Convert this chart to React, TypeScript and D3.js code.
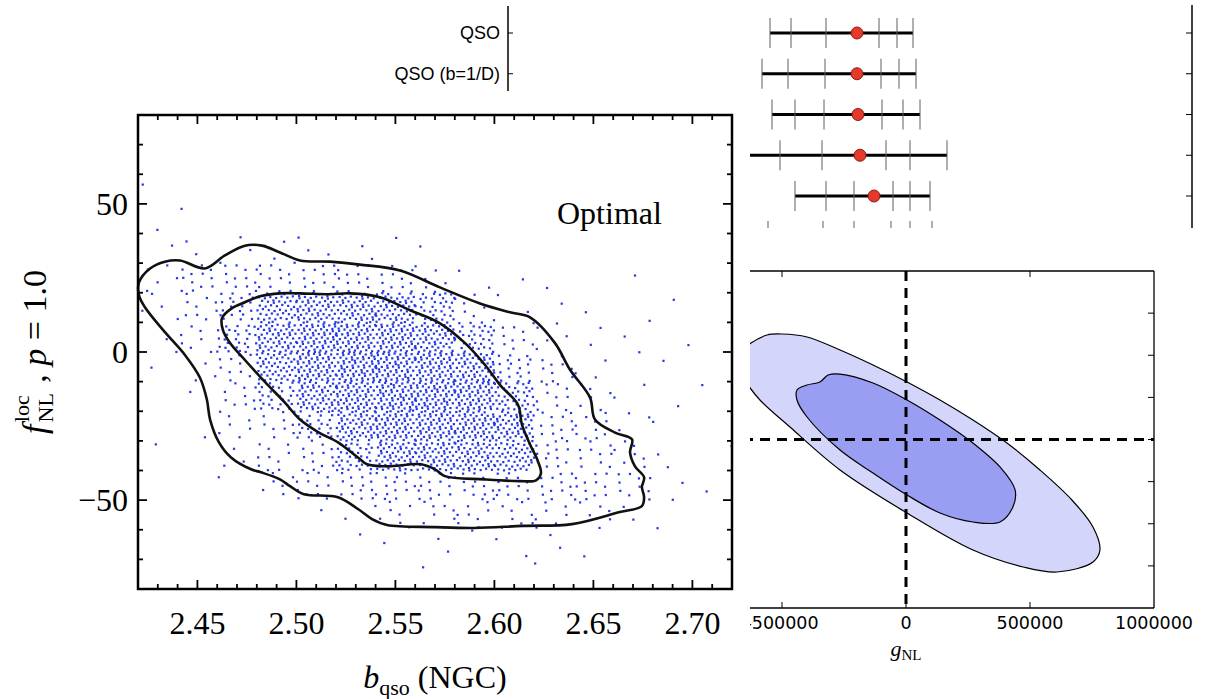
import React from 'react';
import * as d3 from 'd3';

// ---------- top-right panel : error bars ----------
const rowLabels = ['QSO', 'QSO (b=1/D)', '', '', ''];
const rowBest = [0, 0, 0.5, 1.5, 8.5];
const rowTicks = [
  [-43.5, -33, -15.5, 11, 20, 28],
  [-47.5, -34.5, -16, 12, 21, 29.5],
  [-42.5, -31, -16.5, 12.5, 23, 31.5],
  [-68.5, -38.5, -17.5, 14.5, 26.5, 45],
  [-31, -15.5, -1.5, 18, 26.5, 36.5],
];
const stubTicks = [-44.5, -17, -1.5, 17, 26.5, 37.5];

// ---------- left panel : b_qso vs fNL ----------
const bTicks = [2.45, 2.5, 2.55, 2.6, 2.65, 2.7];
const bTickLabels = ['2.45', '2.50', '2.55', '2.60', '2.65', '2.70'];
const fTicks = [50, 0, -50];
const fTickLabels = ['50', '0', '\u221250'];

const outerContour: [number, number][] = [
  [2.4205, 23.5], [2.4261, 28.2], [2.4336, 30.5], [2.4412, 30.9], [2.4538, 28.2],
  [2.4639, 32.6], [2.474, 35.9], [2.4826, 35.9], [2.4917, 33.6], [2.5018, 30.9],
  [2.517, 30.5], [2.5321, 29.5], [2.5523, 27.5], [2.5725, 21.8], [2.5927, 16.4],
  [2.6079, 13.4], [2.618, 11.7], [2.6306, 3.0], [2.6382, -6.0], [2.6483, -15.4],
  [2.6508, -22.8], [2.6609, -27.2], [2.6695, -29.5], [2.6685, -33.9], [2.671, -38.6],
  [2.6756, -42.3], [2.6745, -45.6], [2.6756, -49.0], [2.6745, -52.0], [2.6634, -54.0],
  [2.6392, -58.1], [2.6144, -58.7], [2.5897, -59.4], [2.57, -59.1], [2.5458, -58.4],
  [2.5382, -56.4], [2.5311, -53.0], [2.521, -49.0], [2.5038, -48.0], [2.4968, -45.3],
  [2.4917, -43.0], [2.4821, -40.6], [2.4771, -39.6], [2.467, -35.6], [2.4609, -30.5],
  [2.4564, -22.8], [2.4548, -16.1], [2.4513, -8.7], [2.4437, -1.0], [2.4336, 6.7],
  [2.4235, 15.1], [2.4205, 19.1],
];

const innerContour: [number, number][] = [
  [2.4624, 11.4], [2.4675, 14.8], [2.474, 16.8], [2.4816, 18.8], [2.4917, 19.8],
  [2.5018, 19.8], [2.517, 19.5], [2.5271, 19.8], [2.5422, 18.5], [2.5574, 14.1],
  [2.5725, 9.7], [2.5852, 3.0], [2.5953, -4.4], [2.6028, -11.1], [2.6119, -17.8],
  [2.6139, -24.5], [2.618, -31.2], [2.622, -36.9], [2.6235, -40.9], [2.621, -43.3],
  [2.6129, -43.6], [2.5947, -43.0], [2.575, -41.9], [2.57, -39.6], [2.5629, -37.9],
  [2.5458, -38.6], [2.5357, -37.9], [2.5311, -35.6], [2.521, -30.5], [2.5114, -27.2],
  [2.5018, -22.8], [2.4942, -17.1], [2.4841, -10.1], [2.474, -2.7], [2.4665, 3.0],
  [2.4629, 7.4],
];

// sample counts per cell
// columns: b from 2.42 in steps of 0.02, rows: fNL from 80 down in steps of 10
const gridB0 = 2.42;
const gridDB = 0.02;
const gridF0 = 80;
const gridDF = 10;
const densityGrid = [
  [0, 0, 0, 0, 0, 0, 0, 0, 0, 0, 0, 0, 0, 0, 0],
  [0, 0, 0, 0, 0, 0, 0, 0, 0, 0, 0, 0, 0, 0, 0],
  [1, 0, 0, 0, 0, 0, 0, 0, 0, 0, 0, 0, 0, 0, 0],
  [1, 1, 0, 0, 0, 0, 0, 0, 0, 0, 0, 0, 0, 0, 0],
  [1, 2, 3, 4, 3, 2, 1, 1, 0, 0, 0, 0, 0, 0, 0],
  [5, 12, 12, 12, 12, 12, 12, 6, 2, 1, 1, 0, 1, 0, 0],
  [3, 10, 20, 50, 58, 58, 55, 35, 7, 2, 1, 1, 1, 1, 0],
  [2, 7, 28, 58, 65, 65, 65, 58, 35, 10, 5, 2, 1, 1, 0],
  [1, 3, 10, 50, 65, 70, 70, 65, 58, 20, 10, 3, 1, 1, 0],
  [0, 1, 10, 28, 58, 65, 70, 70, 65, 42, 10, 6, 2, 1, 1],
  [0, 1, 7, 10, 28, 58, 65, 65, 65, 58, 12, 10, 3, 1, 0],
  [1, 0, 3, 10, 12, 35, 58, 58, 58, 50, 14, 10, 7, 2, 1],
  [0, 0, 1, 6, 12, 14, 14, 14, 14, 14, 12, 12, 10, 2, 1],
  [0, 0, 0, 0, 1, 2, 7, 8, 8, 8, 7, 6, 2, 1, 0],
  [0, 0, 0, 0, 0, 1, 1, 2, 1, 2, 2, 1, 0, 0, 0],
  [0, 0, 0, 0, 0, 0, 0, 1, 0, 0, 1, 0, 0, 0, 0],
];

// ---------- bottom-right panel : gNL contours ----------
const gTicks = [-500000, 0, 500000, 1000000];
const gTickLabels = ['-500000', '0', '500000', '1000000'];
const vTicks = [-150, -100, -50, 0, 50, 100, 150];

const outer2: [number, number][] = [
  [-700000, 95], [-625000, 114.5], [-560000, 124], [-500000, 125.2], [-399000, 121.7],
  [-266000, 106.2], [-133000, 88.4], [4000, 68.3], [137000, 46.9], [270000, 23.1],
  [407000, -4.2], [540000, -36.2], [669000, -71.8], [754000, -103.9], [782000, -131.2],
  [754000, -145.4], [609000, -157.3], [472000, -151.3], [270000, -131.2], [4000, -87.2],
  [-266000, -36.2], [-468000, 14.8], [-589000, 46.9], [-650000, 70],
];
const inner2: [number, number][] = [
  [-439500, 58.8], [-399000, 64.7], [-347000, 68.3], [-314000, 76.6], [-266000, 77.7],
  [-133000, 67.1], [4000, 46.9], [137000, 23.1], [270000, -4.2], [379000, -32.6],
  [440000, -59.9], [431000, -80.1], [379000, -97.9], [270000, -97.9], [137000, -87.2],
  [4000, -65.9], [-133000, -39.8], [-266000, -12.5], [-399000, 26.7], [-439500, 46.9],
];

const serif = '"Liberation Serif", "Times New Roman", serif';
const sans = '"Liberation Sans", Arial, sans-serif';
const dejavu = '"DejaVu Sans", sans-serif';

const App = () => {
  // error bar panel
  const ex = d3.scaleLinear().domain([-100, 100]).range([657, 1057]);
  const ey = d3.scalePoint<number>().domain(d3.range(5)).range([33, 196]);

  // left panel
  const bx = d3.scaleLinear().domain([2.42, 2.72]).range([138, 732]);
  const fy = d3.scaleLinear().domain([-80, 80]).range([589, 115]);

  // bottom-right panel
  const gx = d3.scaleLinear().domain([-1000000, 1000000]).range([658, 1154]);
  const vy = d3.scaleLinear().domain([-200, 200]).range([608, 271]);

  const contourLine = d3
    .line<[number, number]>()
    .x(d => bx(d[0]))
    .y(d => fy(d[1]))
    .curve(d3.curveCatmullRomClosed.alpha(0.5));

  const ellLine = d3
    .line<[number, number]>()
    .x(d => gx(d[0]))
    .y(d => vy(d[1]))
    .curve(d3.curveCatmullRomClosed.alpha(0.5));

  // spread each cell's count over the cell
  const dots: [number, number][] = [];
  densityGrid.forEach((row, i) =>
    row.forEach((n, j) => {
      const s = (i * 0.37 + j * 0.61) % 1;
      const t = (i * 0.53 + j * 0.29) % 1;
      for (let k = 0; k < n; k++) {
        const u = (s + (k + 0.5) * 0.7548777) % 1;
        const v = (t + (k + 0.5) * 0.5698403) % 1;
        dots.push([gridB0 + (j + u) * gridDB, gridF0 - (i + v) * gridDF]);
      }
    })
  );

  const bMinor = d3.range(243, 272).map(v => v / 100);
  const fMinor = d3.range(-70, 80, 10);

  const [x0, x1] = bx.range();
  const [y1, y0] = fy.range();

  return (
    <svg
      width={1208}
      height={699}
      style={{ position: 'absolute', left: 0, top: 0, background: '#fff' }}
    >
      <defs>
        <clipPath id="clipBR">
          <rect x={750} y={0} width={460} height={699} />
        </clipPath>
        <clipPath id="clipL">
          <rect x={x0} y={y0} width={x1 - x0} height={y1 - y0} />
        </clipPath>
      </defs>

      {/* ---------- error bar panel ---------- */}
      <g>
        <line x1={508} x2={508} y1={6} y2={230} stroke="#000" strokeWidth={1.5} />
        <line x1={1192} x2={1192} y1={5} y2={228} stroke="#000" strokeWidth={1.5} />
        {rowTicks.map((ticks, i) => (
          <g key={i}>
            <line x1={508} x2={513} y1={ey(i)} y2={ey(i)} stroke="#000" strokeWidth={1} />
            <line x1={1186} x2={1192} y1={ey(i)} y2={ey(i)} stroke="#000" strokeWidth={1} />
            <text
              x={500}
              y={ey(i)}
              textAnchor="end"
              dominantBaseline="central"
              fontFamily={sans}
              fontSize={18}
            >
              {rowLabels[i]}
            </text>
            <line
              x1={ex(d3.min(ticks)!)}
              x2={ex(d3.max(ticks)!)}
              y1={ey(i)}
              y2={ey(i)}
              stroke="#000"
              strokeWidth={3}
            />
            {ticks.map((t, k) => (
              <line
                key={k}
                x1={ex(t)}
                x2={ex(t)}
                y1={ey(i)! - 15}
                y2={ey(i)! + 15}
                stroke="#5e5e5e"
                strokeWidth={1}
              />
            ))}
            <circle cx={ex(rowBest[i])} cy={ey(i)} r={6} fill="#e53a2b" stroke="#8a1d12" strokeWidth={1} />
          </g>
        ))}
        {stubTicks.map((t, k) => (
          <line key={k} x1={ex(t)} x2={ex(t)} y1={221} y2={228} stroke="#5e5e5e" strokeWidth={1} />
        ))}
      </g>

      {/* ---------- gNL panel ---------- */}
      <g clipPath="url(#clipBR)">
        <path d={ellLine(outer2)!} fill="#d3d5fa" stroke="#000" strokeWidth={1.2} />
        <path d={ellLine(inner2)!} fill="#9a9ef2" stroke="#000" strokeWidth={1.2} />
        <line x1={gx(0)} x2={gx(0)} y1={vy(200)} y2={vy(-200)} stroke="#000" strokeWidth={3} strokeDasharray="10,7" />
        <line x1={gx(-1000000)} x2={gx(1000000)} y1={vy(0)} y2={vy(0)} stroke="#000" strokeWidth={3} strokeDasharray="10,7" />
        <line x1={gx(-1000000)} x2={gx(1000000)} y1={vy(200)} y2={vy(200)} stroke="#000" strokeWidth={1.3} />
        <line x1={gx(-1000000)} x2={gx(1000000)} y1={vy(-200)} y2={vy(-200)} stroke="#000" strokeWidth={1.3} />
        <line x1={gx(1000000)} x2={gx(1000000)} y1={vy(200)} y2={vy(-200)} stroke="#000" strokeWidth={1.3} />
        {gTicks.slice(0, -1).map(t => (
          <g key={t}>
            <line x1={gx(t)} x2={gx(t)} y1={vy(-200)} y2={vy(-200) - 6} stroke="#000" strokeWidth={1} />
            <line x1={gx(t)} x2={gx(t)} y1={vy(200)} y2={vy(200) + 6} stroke="#000" strokeWidth={1} />
          </g>
        ))}
        {vTicks.map(t => (
          <line key={t} x1={gx(1000000) - 6} x2={gx(1000000)} y1={vy(t)} y2={vy(t)} stroke="#000" strokeWidth={1} />
        ))}
        {gTicks.map((t, i) => (
          <text key={t} x={gx(t)} y={629} textAnchor="middle" fontFamily={dejavu} fontSize={17.5}>
            {gTickLabels[i]}
          </text>
        ))}
        <text x={gx(0)} y={656} textAnchor="middle" fontFamily={serif}>
          <tspan fontStyle="italic" fontSize={22}>g</tspan>
          <tspan fontSize={15} dy={4}>NL</tspan>
        </text>
      </g>

      {/* ---------- left figure (sits on top) ---------- */}
      <rect x={0} y={91} width={750} height={608} fill="#fff" />
      <g clipPath="url(#clipL)">
        {dots.map((d, i) => (
          <rect key={i} x={bx(d[0]) - 1} y={fy(d[1]) - 1} width={2.2} height={2.2} fill="#2438e0" />
        ))}
      </g>
      <path d={contourLine(outerContour)!} fill="none" stroke="#111" strokeWidth={2.6} />
      <path d={contourLine(innerContour)!} fill="none" stroke="#111" strokeWidth={2.6} />

      <rect x={x0} y={y0} width={x1 - x0} height={y1 - y0} fill="none" stroke="#000" strokeWidth={2.5} />
      {bMinor.map(v => {
        const major = Math.round(v * 100) % 5 === 0;
        const len = major ? 9 : 5;
        return (
          <g key={v}>
            <line x1={bx(v)} x2={bx(v)} y1={y1} y2={y1 - len} stroke="#000" strokeWidth={1.8} />
            <line x1={bx(v)} x2={bx(v)} y1={y0} y2={y0 + len} stroke="#000" strokeWidth={1.8} />
          </g>
        );
      })}
      {fMinor.map(v => {
        const len = v % 50 === 0 ? 9 : 5;
        return (
          <g key={v}>
            <line x1={x0} x2={x0 + len} y1={fy(v)} y2={fy(v)} stroke="#000" strokeWidth={1.8} />
            <line x1={x1} x2={x1 - len} y1={fy(v)} y2={fy(v)} stroke="#000" strokeWidth={1.8} />
          </g>
        );
      })}
      {bTicks.map((t, i) => (
        <text key={t} x={bx(t)} y={634} textAnchor="middle" fontFamily={serif} fontSize={32}>
          {bTickLabels[i]}
        </text>
      ))}
      {fTicks.map((t, i) => (
        <text
          key={t}
          x={128}
          y={fy(t)}
          textAnchor="end"
          dominantBaseline="central"
          fontFamily={serif}
          fontSize={32}
        >
          {fTickLabels[i]}
        </text>
      ))}
      <text x={557} y={224} fontFamily={serif} fontSize={32}>
        Optimal
      </text>
      <text x={bx(2.57)} y={688} textAnchor="middle" fontFamily={serif} fontSize={32}>
        <tspan fontStyle="italic">b</tspan>
        <tspan fontSize={22} dy={7}>qso</tspan>
        <tspan dy={-7}> (NGC)</tspan>
      </text>
      <text
        transform={`translate(46,${fy(0)}) rotate(-90)`}
        textAnchor="middle"
        fontFamily={serif}
        fontSize={34}
      >
        <tspan fontStyle="italic">f</tspan>
        <tspan fontSize={22} dx={2} dy={7}>NL</tspan>
        <tspan fontSize={22} dx={-29} dy={-24}>loc</tspan>
        <tspan dx={4} dy={17}>{' ,  '}</tspan>
        <tspan fontStyle="italic">p</tspan>
        <tspan>{' = 1.0'}</tspan>
      </text>
    </svg>
  );
};

export default App;
